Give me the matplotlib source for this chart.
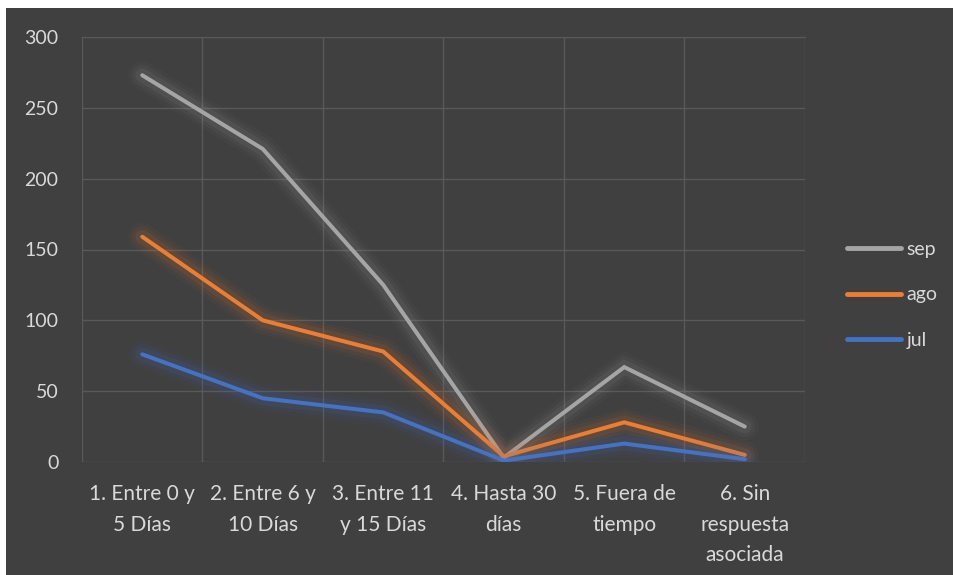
import matplotlib
matplotlib.use("Agg")
import matplotlib.pyplot as plt
import matplotlib.patheffects as pe
from matplotlib.patches import Rectangle
import numpy as np

categories = ["1. Entre 0 y\n5 Días", "2. Entre 6 y\n10 Días", "3. Entre 11\ny 15 Días",
              "4. Hasta 30\ndías", "5. Fuera de\ntiempo", "6. Sin\nrespuesta\nasociada"]
sep = [273, 221, 125, 3, 67, 25]
ago = [159, 100, 78, 4, 28, 5]
jul = [76, 45, 35, 1, 13, 2]
series = [("sep", sep, "#a5a5a5"), ("ago", ago, "#ed7d31"), ("jul", jul, "#4472c4")]
yticks = [0, 50, 100, 150, 200, 250, 300]

plt.rcParams['font.family'] = ['Lato', 'DejaVu Sans']
bg = "#404040"
txt = "#d9d9d9"
grid = "#595959"

fig = plt.figure(figsize=(9.54, 5.75), dpi=100, facecolor="white")
fig.patches.append(Rectangle((6/954, 0), 1 - 6/954, 1 - 8/575, transform=fig.transFigure,
                             facecolor=bg, edgecolor="none", zorder=-10))
ax = fig.add_axes([82/954, 1 - 462/575, (805 - 82)/954, (462 - 37)/575])
ax.set_zorder(1)
ax.set_facecolor(bg)

x = np.arange(len(categories))
for name, vals, col in series:
    ax.plot(x, vals, color=col, lw=2.9, solid_capstyle="round", solid_joinstyle="miter", label=name,
            zorder=3,
            path_effects=[pe.Stroke(linewidth=20, foreground=col, alpha=0.04),
                          pe.Stroke(linewidth=15, foreground=col, alpha=0.06),
                          pe.Stroke(linewidth=10, foreground=col, alpha=0.09),
                          pe.Normal()])

ax.set_xlim(-0.5, len(categories) - 0.5)
ax.set_ylim(0, 300)
ax.set_yticks(yticks)
ax.set_xticks(x)
ax.set_xticklabels(categories, color=txt, fontsize=15, linespacing=1.65)
ax.set_xticks(np.arange(-0.5, len(categories), 1.0), minor=True)
ax.tick_params(axis='y', colors=txt, labelsize=14, length=0, pad=17)
ax.tick_params(axis='x', which='both', length=0, pad=16)
for lab in ax.get_yticklabels():
    lab.set_color(txt)
ax.grid(axis='y', which='major', color=grid, lw=1)
ax.grid(axis='x', which='minor', color=grid, lw=1)
ax.grid(axis='x', which='major', visible=False)
ax.set_axisbelow(True)
for s in ["left", "right", "bottom"]:
    ax.spines[s].set_visible(False)
ax.spines["top"].set_color(grid)

leg = ax.legend(loc="center left", bbox_to_anchor=(1.034, 0.393), frameon=False, fontsize=14,
                labelcolor=txt, handlelength=2.75, handletextpad=0.3, labelspacing=1.45)
for h in leg.legend_handles:
    h.set_linewidth(3.5)
    h.set_path_effects([])

fig.savefig("out.png", dpi=100, facecolor="white")
